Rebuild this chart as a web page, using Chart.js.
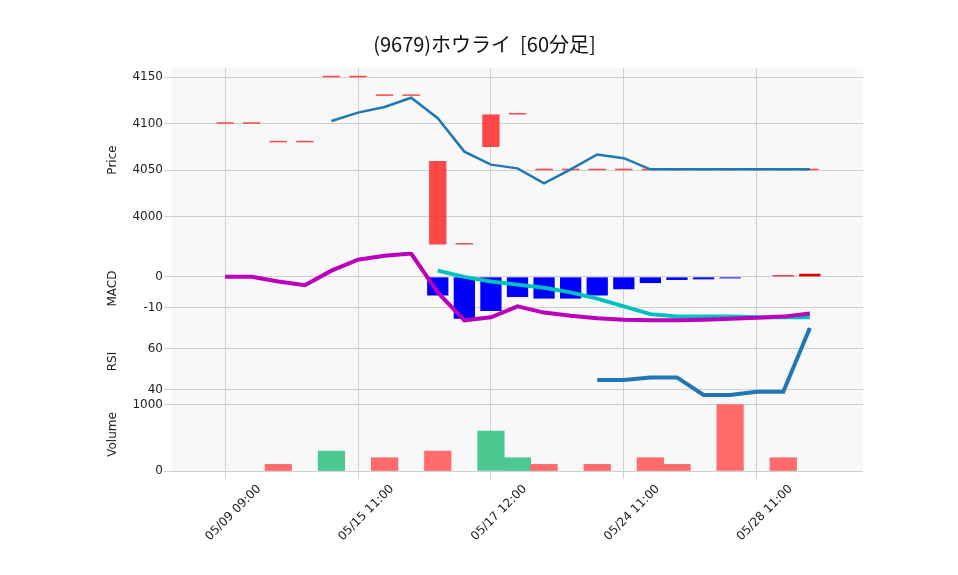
<!DOCTYPE html>
<html>
<head>
<meta charset="utf-8">
<script src="https://cdn.jsdelivr.net/npm/chart.js@4"></script>
<style>body{margin:0;background:#fff}#c{display:block}</style>
</head>
<body>
<canvas id="c" width="958" height="575"></canvas>
<script>
var labels = ['05/09 09:00','05/09 10:00','05/13 09:00','05/13 10:00','05/15 10:00','05/15 11:00','05/15 13:00','05/16 09:00','05/16 10:00','05/16 13:00','05/17 12:00','05/17 13:00','05/20 09:00','05/21 10:00','05/23 09:00','05/24 11:00','05/24 13:00','05/27 09:00','05/27 10:00','05/27 13:00','05/28 11:00','05/29 09:00','05/29 10:00'];
var tickIdx = [0, 5, 10, 15, 20];
var openP  = [4100,4100,4080,4080,4150,4150,4130,4130,4060,3970,4075,4110,4050,4050,4050,4050,4050,4050,4050,4050,4050,4050,4050];
var closeP = [4100,4100,4080,4080,4150,4150,4130,4130,3970,3970,4110,4110,4050,4050,4050,4050,4050,4050,4050,4050,4050,4050,4050];
var maLine = [null,null,null,null,4103,4112,4118,4128,4106,4070,4056,4052,4036,4051,4067,4063,4051,4051,4051,4051,4051,4051,4051];
var macd   = [0,0,-1.5,-2.7,2,5.5,6.8,7.5,-5,-14,-13,-9.5,-11.5,-12.5,-13.3,-13.8,-14,-14,-13.8,-13.5,-13.2,-12.8,-11.8];
var signal = [null,null,null,null,null,null,null,null,2,0,-1.5,-2.5,-3.5,-5,-7,-9.5,-12,-12.8,-12.8,-12.8,-13,-13,-13];
var hist   = [null,null,null,null,null,null,null,null,-6,-13.5,-11,-6.5,-7,-7,-6,-4,-2,-1,-0.8,-0.5,null,0.5,1];
var rsi    = [null,null,null,null,null,null,null,null,null,null,null,null,null,null,44.7,44.7,46,46,37.5,37.5,39,39,70];
var volume = [null,null,100,null,300,null,200,null,300,null,600,200,100,null,100,null,200,100,null,1000,null,200,null];
var volUp  = [false,false,false,false,true,false,false,false,false,false,true,true,false,false,false,false,false,false,false,false,false,false,false];

// two empty slots on each side give the outer margin of the plot
var PAD = 2;
function pad(a){ var e = []; for (var i = 0; i < PAD; i++) e.push(null); return e.concat(a, e); }
var allLabels = pad(labels).map(function(l){ return l || ''; });

var font = {family: 'DejaVu Sans', size: 12};
var grid = {color: '#d0d0d0'};
function fixed(vals){ return function(s){ s.ticks = vals.map(function(v){return {value:v};}); }; }
function yAxis(title, min, max, vals, w){
  return {type:'linear', position:'left', stack:'p', stackWeight:w, offset:false, min:min, max:max,
    afterBuildTicks: fixed(vals), afterFit: function(s){ s.width = 66; },
    grid: grid, border:{display:false},
    ticks:{font:font, color:'#222', padding:1, callback:function(v){ return String(v); }},
    title:{display:true, text:title, font:font, color:'#222', padding:0}};
}
var bgPlugin = {id:'bg', beforeDraw: function(ch){
  var a = ch.chartArea, c = ch.ctx;
  c.save(); c.fillStyle = '#fff'; c.fillRect(0,0,ch.width,ch.height);
  c.fillStyle = '#f8f8f8'; c.fillRect(a.left, a.top, a.right-a.left, a.bottom-a.top); c.restore();
}};

new Chart(document.getElementById('c'), {
  data: {
    labels: allLabels,
    datasets: [
      {type:'line', data: pad(maLine), yAxisID:'yP', borderColor:'#1f77b4', borderWidth:2.5, pointRadius:0, order:0},
      {type:'bar', data: pad(openP.map(function(o,i){return [o, closeP[i]];})), yAxisID:'yP', grouped:false, backgroundColor:'rgba(255,40,40,0.85)', borderColor:'rgba(255,40,40,0.85)', minBarLength:1.5, barPercentage:0.65, categoryPercentage:1, order:1},
      {type:'line', data: pad(macd), yAxisID:'yM', borderColor:'#bb00bb', borderWidth:4, pointRadius:0, order:0},
      {type:'line', data: pad(signal), yAxisID:'yM', borderColor:'#00c0c0', borderWidth:4, pointRadius:0, order:0},
      {type:'bar', data: pad(hist), yAxisID:'yM', grouped:false, backgroundColor: pad(hist.map(function(v){return v>0?'#e00000':'#0000ff';})), barPercentage:0.8, categoryPercentage:1, order:1},
      {type:'line', data: pad(rsi), yAxisID:'yR', borderColor:'#1f77b4', borderWidth:4, pointRadius:0},
      {type:'bar', data: pad(volume), yAxisID:'yV', grouped:false, backgroundColor: pad(volUp.map(function(u){return u?'#4cc790':'#ff6b6b';})), barPercentage:1, categoryPercentage:1}
    ]
  },
  options: {
    responsive:false, animation:false,
    layout:{padding:{left:106, right:95, top:4, bottom:0}},
    plugins:{legend:{display:false}, tooltip:{enabled:false},
      title:{display:true, text:'(9679)ホウライ  [60分足]', font:{family:'Noto Sans CJK JP', size:20, weight:'normal'}, color:'#111', padding:{top:28, bottom:12}}},
    scales: {
      x:{type:'category', offset:false, grid:{offset:false, color:function(c){return tickIdx.indexOf(c.index-PAD)>=0?'#d0d0d0':'rgba(0,0,0,0)';}},
        border:{display:false},
        afterFit:function(s){ s.height = 104; },
        ticks:{autoSkip:false, maxRotation:45, minRotation:45, labelOffset:34, font:font, color:'#222',
          callback:function(v,i){ return tickIdx.indexOf(i-PAD)>=0 ? labels[i-PAD] : ''; }}},
      yV: yAxis('Volume', 0, 1100, [0,1000], 73),
      yR: yAxis('RSI', 36, 71.5, [40,60], 73),
      yM: yAxis('MACD', -15.5, 8, [-10,0], 73),
      yP: yAxis('Price', 3962, 4160, [4000,4050,4100,4150], 184)
    }
  },
  plugins:[bgPlugin]
});
</script>
</body>
</html>
